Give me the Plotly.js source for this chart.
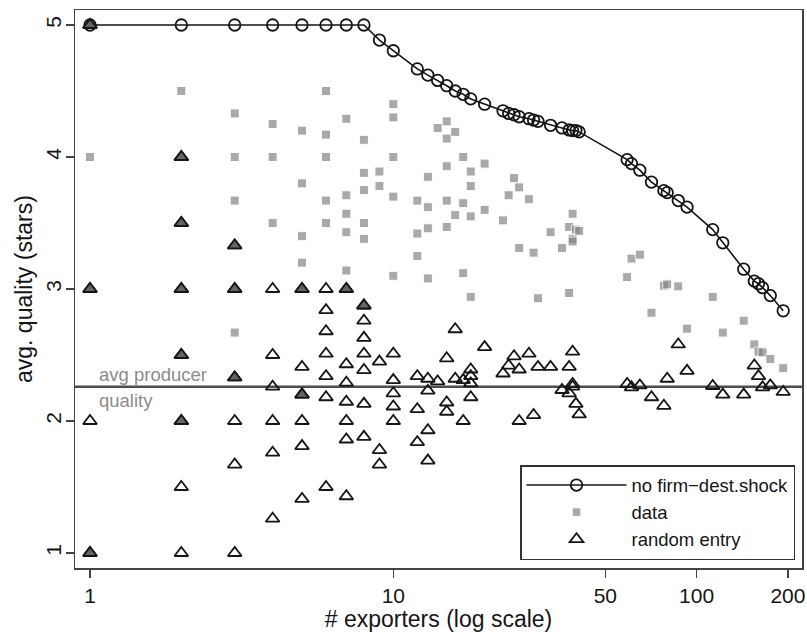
<!DOCTYPE html>
<html>
<head>
<meta charset="utf-8">
<script src="https://cdn.plot.ly/plotly-3.0.1.min.js"></script>
<style>html,body{margin:0;padding:0;background:#fff;}#chart{width:807px;height:632px;}</style>
</head>
<body>
<div id="chart"></div>
<script>
// ---- Data ----
const lineX = [1,2,3,4,5,6,7,8,9,10,12,13,14,15,16,17,18,20,23,24,25,26,28,29,30,33,36,38,39,40,41,59,61,65,71,78,80,87,93,113,122,143,155,160,165,175,193];
const lineY = [5,5,5,5,5,5,5,5,4.886,4.805,4.667,4.62,4.58,4.54,4.50,4.475,4.44,4.40,4.35,4.33,4.32,4.305,4.29,4.28,4.27,4.24,4.22,4.205,4.20,4.20,4.19,3.98,3.95,3.90,3.81,3.745,3.73,3.67,3.62,3.45,3.35,3.15,3.06,3.04,3.01,2.95,2.835];

const dataX = [1,1,1,1, 2,2,2,2,2,2, 3,3,3,3,3,3,3, 4,4,4, 5,5,5,5,5,5, 6,6,6,6,6, 7,7,7,7,7,7, 8,8,8,8,8,8, 9,9, 10,10,10,10,10, 12,12,12, 13,13,13,13, 14, 15,15,15,15,15, 16,16, 17,17,17, 18,18,18,18, 20,20, 23, 24, 25, 26,26, 28, 29, 30, 33, 36, 38,38, 39,39,39, 40, 41, 59, 61, 65, 71, 78, 80, 87, 93, 113, 122, 143, 155, 160, 165, 175, 193];
const dataY = [5,4,3,1, 4.5,4,3.5,3,2.5,2, 4.33,4,3.67,3.33,3,2.67,2.33, 4.25,4,3.5, 4.2,3.8,3.4,3.2,3,2.2, 4.5,4.17,4,3.67,3.5, 4.29,3.71,3.57,3.43,3.14,3, 4.13,3.88,3.75,3.5,3.38,2.875, 3.89,3.78, 4.4,4.3,4,3.7,3.1, 3.67,3.42,3.25, 3.85,3.62,3.46,3.08, 4.22, 4.27,4.14,3.93,3.67,3.47, 4.19,3.56, 4,3.65,3.12, 3.89,3.78,3.55,2.94, 3.95,3.6, 3.52, 3.71, 3.84, 3.77,3.31, 3.68, 3.275, 2.93, 3.43, 3.31, 3.47,2.97, 3.57,3.38,3.36, 3.45, 3.44, 3.09, 3.23, 3.26, 2.82, 3.025, 3.035, 3.02, 2.70, 2.94, 2.67, 2.76, 2.58, 2.525, 2.52, 2.47, 2.40];

const randX = [1,1,1,1, 2,2,2,2,2,2,2, 3,3,3,3,3,3, 4,4,4,4,4,4, 5,5,5,5,5,5, 6,6,6,6,6,6,6, 7,7,7,7,7,7,7, 8,8,8,8,8,8,8, 9,9,9, 10,10,10,10,10, 12,12,12, 13,13,13,13, 14, 15,15,15, 16,16, 17,17, 18,18,18,18, 20, 23, 24, 25, 26,26, 28, 29, 30, 33, 36, 38,38, 39,39,39, 40, 41, 59, 61, 65, 71, 78, 80, 87, 93, 113, 122, 143, 155, 160, 165, 175, 193];
const randY = [5,3,2,1, 4,3.5,3,2.5,2,1.5,1, 3.33,3,2.33,2,1.67,1, 3,2.5,2.26,2,1.76,1.26, 3,2.41,2.2,2,1.81,1.41, 3,2.84,2.68,2.51,2.34,2.18,1.5, 3,2.43,2.29,2.146,2,1.86,1.43, 2.875,2.76,2.63,2.51,2.386,2.13,1.88, 2.45,1.78,1.67, 2.51,2.31,2.21,2.11,2, 2.34,2.09,1.84, 2.32,2.23,1.93,1.7, 2.3, 2.475,2.14,2.07, 2.695,2.32, 2.31,2, 2.39,2.34,2.285,2.18, 2.56, 2.36, 2.42, 2.49, 2.39,2, 2.51, 2.045, 2.41, 2.41, 2.235, 2.41,2.21, 2.525,2.28,2.26, 2.13, 2.05, 2.28, 2.255, 2.27, 2.18, 2.115, 2.32, 2.58, 2.38, 2.265, 2.2, 2.2, 2.42, 2.34, 2.255, 2.27, 2.22];

const avgProducerQuality = 2.26;
const xTickVals = [1, 10, 50, 100, 200];
const xTickText = ['1', '10', '50', '100', '200'];
const yTickVals = [1, 2, 3, 4, 5];

const seriesNames = ['no firm\u2212dest.shock', 'data', 'random entry'];
const xTitle = '# exporters (log scale)';
const yTitle = 'avg. quality (stars)';

// ---- Derived: points where a data square and a random-entry triangle coincide ----
function coincides(x, y, xs, ys) {
  for (let i = 0; i < xs.length; i++) {
    if (xs[i] === x && Math.abs(ys[i] - y) < 0.015) return true;
  }
  return false;
}
const overlapX = [], overlapY = [];
randX.forEach((x, i) => { if (coincides(x, randY[i], dataX, dataY)) { overlapX.push(x); overlapY.push(randY[i]); } });
const dataSizes = dataX.map((x, i) => coincides(x, dataY[i], randX, randY) ? 6 : 9);

const ink = '#151515';
const traces = [
  { x: lineX, y: lineY, name: seriesNames[0], type: 'scatter', mode: 'lines+markers',
    line: { color: ink, width: 1.6 },
    marker: { symbol: 'circle-open', size: 11.5, color: ink, line: { width: 1.8 } } },
  { x: dataX, y: dataY, name: seriesNames[1], type: 'scatter', mode: 'markers',
    marker: { symbol: 'square', size: dataSizes, color: '#858585' } },
  { x: randX, y: randY, name: seriesNames[2], type: 'scatter', mode: 'markers',
    marker: { symbol: 'triangle-up-open', size: 12, color: ink, line: { width: 1.8 } } },
  { x: overlapX, y: overlapY, name: 'data & random entry', type: 'scatter', mode: 'markers', showlegend: false,
    marker: { symbol: 'triangle-up', size: 12, color: '#646464', line: { color: ink, width: 1.8 } } }
];

const axisCommon = {
  showline: true, mirror: true, linecolor: '#444', linewidth: 1.5,
  ticks: 'outside', ticklen: 8, tickwidth: 1.5, tickcolor: '#444',
  showgrid: false, zeroline: false,
  tickfont: { size: 21, color: ink }
};

const layout = {
  width: 807, height: 632,
  margin: { l: 75, r: 5, t: 10, b: 64 },
  paper_bgcolor: '#ffffff', plot_bgcolor: '#ffffff',
  font: { family: '"Liberation Sans", Arial, sans-serif', color: ink },
  xaxis: Object.assign({}, axisCommon, {
    type: 'log', range: [-0.0495, 2.3475],
    tickvals: xTickVals, ticktext: xTickText,
    title: { text: xTitle, font: { size: 23, color: ink }, standoff: 2 }
  }),
  yaxis: Object.assign({}, axisCommon, {
    range: [0.8864, 5.1136], tickvals: yTickVals, tickangle: -90, ticklabelstandoff: -4
  }),
  shapes: [
    { type: 'line', xref: 'paper', x0: 0, x1: 1, yref: 'y', y0: avgProducerQuality, y1: avgProducerQuality,
      line: { color: '#4d4d4d', width: 2.5 }, layer: 'below' }
  ],
  annotations: [
    { text: yTitle, textangle: -90, xref: 'paper', x: 0, xanchor: 'center', xshift: -51,
      yref: 'paper', y: 0.5, yanchor: 'middle', showarrow: false, font: { size: 23, color: ink } },
    { text: 'avg producer', xref: 'paper', x: 0.03, xanchor: 'left', yref: 'y', y: avgProducerQuality,
      yanchor: 'bottom', yshift: 0, showarrow: false, font: { size: 18.5, color: '#8c8c8c' } },
    { text: 'quality', xref: 'paper', x: 0.03, xanchor: 'left', yref: 'y', y: avgProducerQuality,
      yanchor: 'top', yshift: -1, showarrow: false, font: { size: 18.5, color: '#8c8c8c' } }
  ],
  showlegend: true,
  legend: {
    x: 0.9904, xanchor: 'right', y: 0.0143, yanchor: 'bottom',
    bgcolor: '#ffffff', bordercolor: '#333', borderwidth: 1.5,
    font: { size: 18.5, color: ink }, itemwidth: 100, tracegroupgap: 0
  }
};

Plotly.newPlot('chart', traces, layout, { displayModeBar: false, staticPlot: true });
</script>
</body>
</html>
